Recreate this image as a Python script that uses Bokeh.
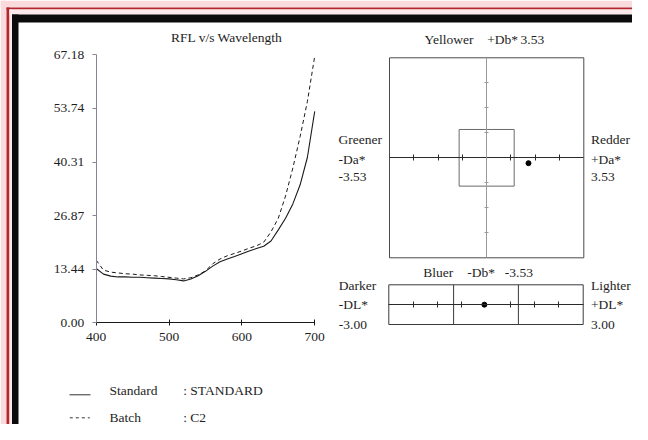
from bokeh.plotting import figure
from bokeh.models import Range1d, LinearAxis, FixedTicker, PrintfTickFormatter
from bokeh.core.properties import value
from bokeh.embed import file_html
from bokeh.resources import INLINE

# ---------------- data ----------------
wavelength = list(range(400, 701, 10))
standard = [13.6, 12.2, 11.7, 11.5, 11.5, 11.4, 11.4, 11.3, 11.2, 11.1, 11.0,
            10.8, 10.5, 11.0, 11.8, 12.9, 14.2, 15.3, 16.0, 16.6, 17.3,
            18.0, 18.6, 19.2, 20.5, 23.3, 26.2, 29.8, 34.6, 41.5, 53.0]
batch = [15.7, 13.2, 12.7, 12.5, 12.3, 12.2, 12.0, 11.9, 11.8, 11.6, 11.4,
         11.2, 11.0, 11.3, 12.0, 13.0, 14.8, 16.0, 16.8, 17.4, 18.0,
         18.7, 19.3, 20.2, 22.8, 26.2, 31.8, 38.8, 46.7, 55.5, 66.8]
rfl_ticks = [0.00, 13.436, 26.872, 40.308, 53.744, 67.18]
wl_ticks = [400, 500, 600, 700]

da_limit = 3.53
db_limit = 3.53
dl_limit = 3.00
tolerance = 1.0
dadb_ticks = [-2.6475, -1.765, -0.8825, 0.8825, 1.765, 2.6475]
dl_ticks = [-2.25, -1.5, -0.75, 0.75, 1.5, 2.25]
batch_da = [1.52]
batch_db = [-0.19]
batch_dl = [-0.05]

FONT = "Liberation Serif"
FS = "13.5px"
INK = "#1e1e1e"

W, H = 632, 424


def lin_range(v0, p0, v1, p1, size, vertical=False):
    s = (p1 - p0) / (v1 - v0)
    at0 = v0 + (0 - p0) / s
    atN = v0 + (size - p0) / s
    if vertical:
        return Range1d(start=atN, end=at0)
    return Range1d(start=at0, end=atN)


p = figure(width=W, height=H, x_range=Range1d(0, W), y_range=Range1d(H, 0),
           x_axis_type=None, y_axis_type=None, toolbar_location=None,
           output_backend="svg", min_border=0, outline_line_color=None,
           background_fill_color="white", border_fill_color="white")

p.extra_x_ranges = {
    "wl": lin_range(400, 95.7, 700, 314.2, W),
    "da": lin_range(-da_limit, 389.0, da_limit, 583.3, W),
    "dl": lin_range(-dl_limit, 388.3, dl_limit, 582.7, W),
}
p.extra_y_ranges = {
    "rfl": lin_range(0, 322.3, 67.18, 54.3, H, vertical=True),
    "db": lin_range(-db_limit, 257.3, db_limit, 57.3, H, vertical=True),
    "dly": lin_range(-1, 324.0, 1, 284.3, H, vertical=True),
}

# ---------------- frame decoration ----------------
p.quad(left=[0, 0], right=[W, 6], top=[0, 0], bottom=[7, H],
       fill_color="#f9dadd", line_color=None)
p.quad(left=[6, 6], right=[W, 9], top=[7, 7], bottom=[9, H],
       fill_color="#b3262c", line_color=None)
p.quad(left=[9, 9], right=[W, 11.5], top=[9, 9], bottom=[14, H],
       fill_color="#fbe9eb", line_color=None)
p.quad(left=[11.5, 11.5], right=[W, 18], top=[14, 14], bottom=[22, H],
       fill_color="#0b0b0b", line_color=None)

# ---------------- spectral curves ----------------
p.line(wavelength, standard, x_range_name="wl", y_range_name="rfl",
       line_color="#1a1a1a", line_width=1.1)
p.line(wavelength, batch, x_range_name="wl", y_range_name="rfl",
       line_color="#1a1a1a", line_width=1.0, line_dash="4 3")


def style_axis(ax, line_color, tick_in, tick_out, labels=True):
    ax.axis_line_color = line_color
    ax.major_tick_line_color = line_color
    ax.minor_tick_line_color = None
    ax.major_tick_in = tick_in
    ax.major_tick_out = tick_out
    ax.major_label_text_font = FONT
    ax.major_label_text_font_size = FS
    ax.major_label_text_color = INK
    if not labels:
        ax.major_label_text_alpha = 0


xax = LinearAxis(x_range_name="wl", y_range_name="rfl", fixed_location=0,
                 bounds=(400, 700), ticker=FixedTicker(ticks=wl_ticks),
                 major_label_standoff=7)
style_axis(xax, "#1a1a1a", 3, 3)
p.add_layout(xax, "below")

yax = LinearAxis(x_range_name="wl", y_range_name="rfl", fixed_location=400,
                 bounds=(0, 67.18), ticker=FixedTicker(ticks=rfl_ticks),
                 formatter=PrintfTickFormatter(format="%.2f"),
                 major_label_standoff=8)
style_axis(yax, "#8c8296", 0, 4)
p.add_layout(yax, "left")

p.text(x=[226.3], y=[37], text=["RFL v/s Wavelength"], text_font=value(FONT),
       text_font_size=value(FS), text_color=INK, text_align="center",
       text_baseline="middle")

# ---------------- Da / Db chart ----------------
p.quad(left=[-da_limit], right=[da_limit], bottom=[-db_limit], top=[db_limit],
       x_range_name="da", y_range_name="db", fill_color=None,
       line_color="#4a4a4a", line_width=1)
p.quad(left=[-tolerance], right=[tolerance], bottom=[-tolerance], top=[tolerance],
       x_range_name="da", y_range_name="db", fill_color=None,
       line_color="#6a6a6a", line_width=1)

daax = LinearAxis(x_range_name="da", y_range_name="db", fixed_location=0,
                  bounds=(-da_limit, da_limit), ticker=FixedTicker(ticks=dadb_ticks))
style_axis(daax, "#2a2a2a", 3, 3, labels=False)
p.add_layout(daax, "below")
dbax = LinearAxis(x_range_name="da", y_range_name="db", fixed_location=0,
                  bounds=(-db_limit, db_limit), ticker=FixedTicker(ticks=dadb_ticks))
style_axis(dbax, "#9a9a9a", 2, 2, labels=False)
p.add_layout(dbax, "left")

p.scatter(batch_da, batch_db, x_range_name="da", y_range_name="db",
          size=5, fill_color="black", line_color="black")

# ---------------- DL bar ----------------
p.quad(left=[-dl_limit], right=[dl_limit], bottom=[-1], top=[1],
       x_range_name="dl", y_range_name="dly", fill_color=None,
       line_color="#3a3a3a", line_width=1)
p.segment(x0=[-tolerance, tolerance], y0=[-1, -1], x1=[-tolerance, tolerance], y1=[1, 1],
          x_range_name="dl", y_range_name="dly", line_color="#3a3a3a", line_width=1)
dlax = LinearAxis(x_range_name="dl", y_range_name="dly", fixed_location=0,
                  bounds=(-dl_limit, dl_limit), ticker=FixedTicker(ticks=dl_ticks))
style_axis(dlax, "#2a2a2a", 3, 3, labels=False)
p.add_layout(dlax, "below")
p.scatter(batch_dl, [0], x_range_name="dl", y_range_name="dly",
          size=5, fill_color="black", line_color="black")

# ---------------- text labels ----------------
lab_x = [424, 486.7, 520,
         338, 338, 338, 590.5, 590.5, 590.5,
         422.7, 466.7, 504.3,
         338.3, 338.3, 338.3, 590.5, 590.5, 590.5,
         109, 182.7, 109, 182.7]
lab_y = [39.3, 39.3, 39.3,
         139, 159.3, 176.7, 139, 159.3, 176.7,
         272.3, 272.3, 272.3,
         285, 304.3, 324.3, 285, 304.3, 324.3,
         390, 390, 416.7, 416.7]
lab_t = ["Yellower", "+Db*", "3.53",
         "Greener", "-Da*", "-3.53", "Redder", "+Da*", "3.53",
         "Bluer", "-Db*", "-3.53",
         "Darker", "-DL*", "-3.00", "Lighter", "+DL*", "3.00",
         "Standard", ": STANDARD", "Batch", ": C2"]
p.text(x=lab_x, y=lab_y, text=lab_t, text_font=value(FONT),
       text_font_size=value(FS), text_color=INK, text_align="left",
       text_baseline="middle")

# legend samples
p.segment(x0=[69], y0=[394.3], x1=[90], y1=[394.3], line_color="#333333", line_width=1)
p.segment(x0=[69.3], y0=[417.3], x1=[89.3], y1=[417.3], line_color="#333333",
          line_width=1, line_dash="3 3")

open("out.html", "w").write(file_html(p, INLINE))
